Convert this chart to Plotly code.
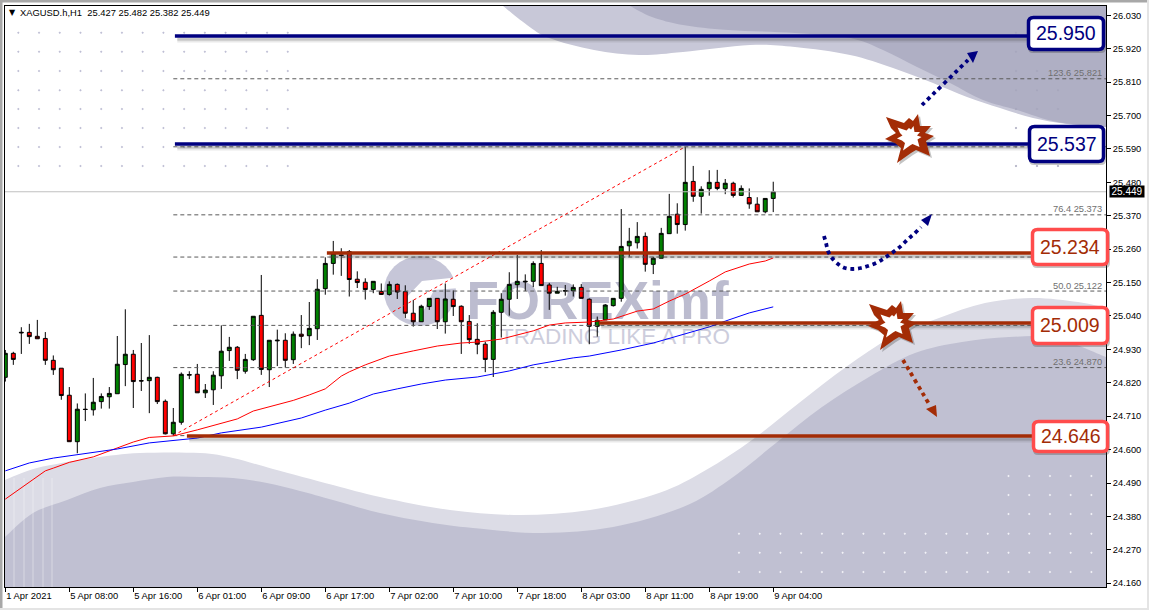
import plotly.graph_objects as go

# ---------------- data ----------------
title_text = "XAGUSD.h,H1  25.427 25.482 25.382 25.449"
opens = [24.838,24.917,24.984,24.986,24.973,24.966,24.894,24.868,24.779,24.626,24.733,24.731,24.758,24.774,24.784,24.880,24.914,24.827,24.827,24.838,24.759,24.652,24.690,24.845,24.848,24.787,24.797,24.843,24.926,24.937,24.858,24.896,25.042,24.863,24.958,
         24.960,24.896,24.980,24.975,24.998,25.130,25.213,25.241,25.252,25.161,25.151,25.127,25.121,25.111,25.144,25.120,25.049,25.021,25.071,25.098,25.021,25.095,25.072,25.022,24.963,24.947,24.897,25.052,25.095,25.143,25.152,25.154,
         25.213,25.142,25.115,25.122,25.123,25.134,25.095,25.006,25.027,25.074,25.098,25.271,25.281,25.302,25.210,25.230,25.311,25.375,25.341,25.483,25.434,25.459,25.480,25.459,25.477,25.437,25.430,25.408,25.383,25.427]
highs = [24.928,24.922,25.003,25.014,25.027,24.987,24.910,24.868,24.806,24.752,24.785,24.836,24.785,24.806,24.974,25.062,24.928,24.951,24.977,24.840,24.765,24.737,24.854,24.858,24.882,24.816,24.858,25.009,24.971,24.941,24.915,25.039,25.175,24.960,24.995,
         24.983,24.989,25.043,25.086,25.161,25.233,25.287,25.263,25.257,25.187,25.164,25.154,25.147,25.154,25.147,25.141,25.093,25.077,25.098,25.098,25.147,25.124,25.075,25.043,25.016,24.955,25.059,25.115,25.184,25.241,25.177,25.220,
         25.257,25.149,25.136,25.142,25.144,25.145,25.098,25.038,25.079,25.098,25.392,25.330,25.349,25.315,25.235,25.330,25.442,25.411,25.597,25.534,25.467,25.520,25.521,25.491,25.482,25.470,25.460,25.431,25.427,25.482]
lows = [24.824,24.879,24.915,24.948,24.965,24.879,24.846,24.764,24.626,24.588,24.694,24.712,24.735,24.735,24.784,24.809,24.737,24.793,24.720,24.750,24.650,24.645,24.682,24.832,24.787,24.770,24.747,24.800,24.892,24.832,24.850,24.892,24.846,24.806,24.875,
        24.870,24.882,24.934,24.944,24.961,25.110,25.176,25.172,25.104,25.132,25.094,25.115,25.109,25.107,25.096,25.033,25.005,25.021,25.060,24.997,24.982,25.040,24.915,24.948,24.914,24.855,24.839,24.969,25.041,25.096,25.122,25.135,
        25.140,25.060,25.115,25.107,25.104,25.098,24.947,24.972,25.027,25.071,25.087,25.235,25.262,25.186,25.178,25.230,25.311,25.311,25.321,25.416,25.377,25.436,25.454,25.441,25.430,25.436,25.393,25.383,25.378,25.382]
closes = [24.917,24.897,24.986,24.972,24.965,24.894,24.863,24.778,24.626,24.733,24.732,24.756,24.775,24.785,24.881,24.914,24.824,24.826,24.838,24.758,24.652,24.690,24.848,24.847,24.787,24.796,24.845,24.924,24.937,24.861,24.897,25.039,24.864,24.960,24.960,
          24.894,24.980,24.973,24.999,25.128,25.213,25.246,25.239,25.160,25.150,25.127,25.154,25.111,25.144,25.119,25.049,25.021,25.072,25.098,25.021,25.096,25.071,25.021,24.962,24.947,24.897,25.052,25.095,25.144,25.154,25.154,25.213,
          25.140,25.115,25.121,25.123,25.134,25.098,25.006,25.026,25.076,25.098,25.269,25.286,25.302,25.210,25.230,25.312,25.368,25.341,25.480,25.434,25.457,25.480,25.460,25.477,25.437,25.460,25.409,25.383,25.427,25.449]

red_ma_bar = [0,5,6,8,11,14,16,18,21,24,27,29,31,34,36,38,40,42,43,45,48,51,54,57,59,62,63,66,68,70,73,76,79,81,83,85,88,90,93,95,96]
red_ma_val = [24.437,24.530,24.539,24.558,24.576,24.605,24.625,24.640,24.645,24.665,24.688,24.701,24.727,24.747,24.762,24.780,24.800,24.842,24.856,24.879,24.908,24.925,24.941,24.951,24.954,24.964,24.971,24.991,25.010,25.017,25.020,25.030,25.056,25.063,25.089,25.112,25.155,25.185,25.211,25.221,25.231]
blue_ma_bar = [0,3,6,9,11,14,18,22,24,27,30,32,37,40,43,44,46,49,52,55,59,61,63,66,71,73,77,81,85,88,90,93,96]
blue_ma_val = [24.530,24.556,24.572,24.584,24.592,24.602,24.622,24.632,24.638,24.655,24.665,24.674,24.704,24.730,24.753,24.763,24.783,24.800,24.816,24.829,24.839,24.849,24.859,24.879,24.902,24.908,24.928,24.951,24.982,25.004,25.023,25.050,25.070]

fib_prices = [25.821,25.597,25.373,25.234,25.122,25.009,24.870,24.646]
fib_labels = ["123.6 25.821","","76.4 25.373","","50.0 25.122","","23.6 24.870",""]
fib_start_bar = 21
fib_peak_bar = 85
fib_low = 24.646
fib_high = 25.597

level_prices = [25.962,25.606,25.247,25.017,24.645]
level_start_bars = [21.2,21.2,40.2,74.2,22.7]
level_texts = ["25.950","25.537","25.234","25.009","24.646"]
current_price = 25.449

bar_labels = ["1 Apr 2021","5 Apr 08:00","5 Apr 16:00","6 Apr 01:00","6 Apr 09:00","6 Apr 17:00","7 Apr 02:00",
              "7 Apr 10:00","7 Apr 18:00","8 Apr 03:00","8 Apr 11:00","8 Apr 19:00","9 Apr 04:00"]
bar_ticks = [0,8,16,24,32,40,48,56,64,72,80,88,96]
price_ticks = [26.03,25.92,25.81,25.70,25.59,25.48,25.37,25.26,25.15,25.04,24.93,24.82,24.71,24.60,24.49,24.38,24.27,24.16]

# ---------------- layout geometry (pixels) ----------------
W, H = 1149, 610
L, R, T, B = 5, 1106, 6, 587
TEXT = "Liberation Sans"
NAVY = "#000080"
BROWN = "#A32C06"
BOXRED = "#FF4C4C"


def px(x):
    return (x - L) / (R - L)


def py(y):
    return (B - y) / (B - T)


def P(x, y):
    return f"{px(x):.5f},{py(y):.5f}"


def poly(points):
    return "M" + " L".join(P(*p) for p in points) + " Z"


def smooth(points):
    """Catmull-Rom spline through the points as cubic path segments."""
    s = ""
    n = len(points)
    for i in range(n - 1):
        p0 = points[max(i - 1, 0)]
        p1 = points[i]
        p2 = points[i + 1]
        p3 = points[min(i + 2, n - 1)]
        c1 = (p1[0] + (p2[0] - p0[0]) / 6, p1[1] + (p2[1] - p0[1]) / 6)
        c2 = (p2[0] - (p3[0] - p1[0]) / 6, p2[1] - (p3[1] - p1[1]) / 6)
        s += f" C{P(*c1)} {P(*c2)} {P(*p2)}"
    return s


def blob(points, closing):
    d = "M" + P(*points[0]) + smooth(points)
    for c in closing:
        d += " L" + P(*c)
    return d + " Z"


def round_rect(x0, y0, x1, y1, r):
    return (f"M{P(x0 + r, y0)} L{P(x1 - r, y0)} Q{P(x1, y0)} {P(x1, y0 + r)} "
            f"L{P(x1, y1 - r)} Q{P(x1, y1)} {P(x1 - r, y1)} L{P(x0 + r, y1)} "
            f"Q{P(x0, y1)} {P(x0, y1 - r)} L{P(x0, y0 + r)} Q{P(x0, y0)} {P(x0 + r, y0)} Z")


def path_shape(path, fill=None, line_color=None, width=0, layer="below", dash=None):
    line = dict(color=line_color or "rgba(0,0,0,0)", width=width)
    if dash:
        line["dash"] = dash
    return dict(type="path", path=path, xref="paper", yref="paper", layer=layer,
                fillcolor=fill or "rgba(0,0,0,0)", line=line)


def dots(xs, ys, r=1.25):
    d = ""
    for y in ys:
        for x in xs:
            d += f"M{P(x - r, y)} L{P(x, y - r)} L{P(x + r, y)} L{P(x, y + r)} Z "
    return d


shapes = []

# top-right swoosh
top_light = [(503, 6), (527, 25), (549, 38), (594, 50), (639, 55), (683, 52), (750, 45), (795, 47), (850, 55),
             (893, 68), (933, 83), (967, 97), (1000, 108), (1033, 118), (1067, 124), (1106, 127)]
top_dark = [(630, 6), (652, 17), (683, 25), (728, 30), (795, 33), (850, 38), (883, 50), (917, 67), (950, 83),
            (983, 100), (1017, 110), (1057, 122), (1106, 127)]
shapes.append(path_shape(blob(top_light, [(1106, 6)]), fill="#C8C8D8"))
shapes.append(path_shape(blob(top_dark, [(1106, 6)]), fill="#AFAFC4"))

# bottom swoosh
bot_light = [(5, 480), (37, 468), (93, 458), (140, 453), (200, 453), (233, 458), (273, 469), (333, 485), (380, 497),
             (450, 510), (520, 515), (590, 510), (659, 493), (706, 470), (752, 440), (799, 403), (846, 367),
             (892, 337), (939, 318), (985, 303), (1032, 298), (1078, 302), (1106, 308)]
bot_dark = [(5, 537), (33, 513), (67, 500), (100, 488), (133, 482), (167, 477), (200, 477), (233, 478), (267, 483),
            (300, 491), (333, 500), (380, 513), (427, 522), (473, 528), (543, 533), (613, 527), (683, 507),
            (729, 480), (776, 443), (822, 407), (869, 377), (915, 353), (962, 342), (1009, 337), (1055, 338),
            (1106, 357)]
shapes.append(path_shape(blob(bot_light, [(1106, 587), (5, 587)]), fill="#DCDCE6"))
shapes.append(path_shape(blob(bot_dark, [(1106, 587), (5, 587)]), fill="#C0C0D2"))

# pale vertical stripes bottom-left
for sx in (14, 24, 33, 43, 52):
    shapes.append(dict(type="line", xref="paper", yref="paper", layer="below",
                       x0=px(sx), x1=px(sx), y0=py(478), y1=py(587),
                       line=dict(color="rgba(255,255,255,0.38)", width=1)))

# dot grids
rows_top = [32.7, 51.7, 71, 90.3, 109, 128, 147, 166]
cols_top = [18.3 + 20.73 * i for i in range(14)]
shapes.append(path_shape(dots(cols_top, rows_top), fill="#BEBED4"))
shapes.append(path_shape(dots([1016], rows_top), fill="#A6A6BC"))
shapes.append(path_shape(dots([1037, 1058], [71, 90.3, 109, 166]), fill="#A6A6BC"))
cols_bot = [739 + 20.73 * i for i in range(18)]
shapes.append(path_shape(dots(cols_bot, [533.7, 552.7, 572]), fill="#F2F2F7"))
shapes.append(path_shape(dots(cols_bot[13:], [476, 495, 514]), fill="#F2F2F7"))

# watermark
shapes.append(dict(type="circle", xref="paper", yref="paper", layer="below",
                   x0=px(384), x1=px(456), y0=py(326), y1=py(256),
                   fillcolor="#C6C6D8", line=dict(width=0)))
shapes.append(path_shape(poly([(404, 300), (422, 281), (460, 277), (460, 288), (434, 290), (418, 322), (404, 318)]),
                         fill="#FFFFFF"))
shapes.append(dict(type="rect", xref="paper", yref="paper", layer="below",
                   x0=px(440), x1=px(755), y0=py(325), y1=py(265),
                   line=dict(width=0), fillcolor="rgba(0,0,0,0)",
                   label=dict(text="<b>FOREXimf</b>", textposition="middle center",
                              font=dict(family=TEXT, size=53, color="#BCBCCF"))))
shapes.append(dict(type="rect", xref="paper", yref="paper", layer="below",
                   x0=px(465), x1=px(765), y0=py(345), y1=py(322),
                   line=dict(width=0), fillcolor="rgba(0,0,0,0)",
                   label=dict(text="TRADING LIKE A PRO", textposition="middle center",
                              font=dict(family=TEXT, size=22.5, color="#CDCDDC"))))

# value boxes
boxes = [(1027, 16, 1105, 51, NAVY), (1028, 125, 1105, 163, NAVY), (1031, 228, 1109, 266, BOXRED),
         (1031, 306, 1109, 345, BOXRED), (1032, 420, 1109, 453, BOXRED)]
for (x0, y0, x1, y1, col) in boxes:
    shapes.append(path_shape(round_rect(x0 + 1, y0 + 2, x1 + 1, y1 + 2, 5), fill="rgba(60,60,60,0.3)", layer="above"))
    shapes.append(path_shape(round_rect(x0 + 1.5, y0 + 1.5, x1 - 1.5, y1 - 1.5, 5), fill="#FFFFFF", line_color=col,
                             width=3.5, layer="above"))

# bursts
burst = [(-23, -21), (-5, -15), (0, -20), (4, -17), (9, -24), (11, -12), (22, -12), (16, -5), (25, -2), (17, 3),
         (21, 18), (7, 12), (2, 15), (-12, 25), (-8, 10), (-14, 5), (-24, 1), (-13, -5), (-18, -10)]
for (cx, cy) in [(909, 138), (892, 325)]:
    shapes.append(path_shape(poly([(cx + a + 2, cy + b + 2) for a, b in burst]), fill="rgba(60,60,60,0.3)", layer="above"))
    shapes.append(path_shape(poly([(cx + a, cy + b) for a, b in burst]), fill=BROWN, layer="above"))
    shapes.append(path_shape(poly([(cx + a * 0.5, cy + b * 0.5) for a, b in burst]), fill="#FFFFFF", layer="above"))

# arrows
navy_straight = [(922, 105), (968, 60)]
navy_curve = [(824, 236), (826, 243), (828, 251), (832, 258), (838, 264), (845, 268), (853, 269), (861, 268),
              (868, 266), (876, 263), (883, 259), (889, 255), (896, 250), (902, 245), (908, 239), (914, 234), (921, 227)]
brown_straight = [(903, 360), (929, 404)]
for pts, col in [(navy_straight, NAVY), (navy_curve, NAVY), (brown_straight, BROWN)]:
    d = "M" + P(*pts[0]) + smooth(pts)
    shapes.append(path_shape(d, line_color=col, width=3.8, layer="above", dash="dot"))
shapes.append(path_shape(poly([(978, 51), (967, 53), (973, 63)]), fill=NAVY, layer="above"))
shapes.append(path_shape(poly([(932, 214), (921, 220), (928, 226)]), fill=NAVY, layer="above"))
shapes.append(path_shape(poly([(937, 417), (926, 409), (936, 405)]), fill=BROWN, layer="above"))

# window edge
for (x0, y0, x1, y1, col) in [(0, 0, W, 2.5, "#A8A8A8"), (0, 0, 2.5, H, "#A8A8A8"),
                              (1147, 0, W, H, "#E4E4E4"), (0, 608, W, H, "#E4E4E4")]:
    shapes.append(dict(type="rect", xref="paper", yref="paper", layer="above",
                       x0=px(x0), x1=px(x1), y0=py(y1), y1=py(y0), fillcolor=col, line=dict(width=0)))

# ---------------- traces ----------------
bars = list(range(len(opens)))
fig = go.Figure()

for p in fib_prices:
    fig.add_trace(go.Scatter(x=[fib_start_bar, 137.6], y=[p, p], mode="lines",
                             line=dict(color="#5A5A5A", width=1, dash="4px,3px"), hoverinfo="skip"))
fig.add_trace(go.Scatter(x=[-1, 137.6], y=[current_price, current_price], mode="lines",
                         line=dict(color="#C0C0C0", width=1), hoverinfo="skip"))
fig.add_trace(go.Scatter(x=[fib_start_bar, fib_peak_bar], y=[fib_low, fib_high], mode="lines",
                         line=dict(color="#FF0000", width=1, dash="3px,3px"), hoverinfo="skip"))
fig.add_trace(go.Candlestick(x=bars, open=opens, high=highs, low=lows, close=closes, whiskerwidth=0,
                             increasing=dict(fillcolor="#008000", line=dict(color="#000000", width=1)),
                             decreasing=dict(fillcolor="#FF0000", line=dict(color="#000000", width=1)),
                             hoverinfo="skip"))
fig.add_trace(go.Scatter(x=red_ma_bar, y=red_ma_val, mode="lines", line=dict(color="#FF0000", width=1), hoverinfo="skip"))
fig.add_trace(go.Scatter(x=blue_ma_bar, y=blue_ma_val, mode="lines", line=dict(color="#0000FF", width=1), hoverinfo="skip"))

UNIT = (26.03 - 24.16) / (583.0 - 15.3)  # price per pixel, only for the soft line shadows
for i, (p, s) in enumerate(zip(level_prices, level_start_bars)):
    col = NAVY if i < 2 else BROWN
    for off, alpha in ((2.5, 0.28), (4, 0.2), (5.5, 0.12)):
        fig.add_trace(go.Scatter(x=[s + 0.3, 129], y=[p - off * UNIT] * 2, mode="lines",
                                 line=dict(color=f"rgba(70,70,70,{alpha})", width=2), hoverinfo="skip"))
    fig.add_trace(go.Scatter(x=[s, 129], y=[p, p], mode="lines", line=dict(color=col, width=3.5), hoverinfo="skip"))

# ---------------- annotations ----------------
ann = [dict(text=title_text, xref="paper", yref="paper", x=px(18), y=py(12.5), xanchor="left", yanchor="middle",
            showarrow=False, font=dict(family=TEXT, size=9.4, color="#000000")),
       dict(text="▼", xref="paper", yref="paper", x=px(7), y=py(12.5), xanchor="left", yanchor="middle",
            showarrow=False, font=dict(family="DejaVu Sans", size=8, color="#000000")),
       dict(text="25.449", xref="paper", yref="y", x=px(1109), y=current_price, xanchor="left", yanchor="middle",
            showarrow=False, bgcolor="#000000", borderpad=0, width=34, height=11, align="center",
            font=dict(family=TEXT, size=10, color="#FFFFFF"))]
for p, t in zip(fib_prices, fib_labels):
    if t:
        ann.append(dict(text=t, xref="paper", yref="y", x=px(1104), y=p, yshift=5.5, xanchor="right", yanchor="middle",
                        showarrow=False, font=dict(family=TEXT, size=9.3, color="#707070")))
for t, (x0, y0, x1, y1, col) in zip(level_texts, boxes):
    ann.append(dict(text=t, xref="paper", yref="paper", x=px((x0 + x1) / 2), y=py((y0 + y1) / 2 - 0.5),
                    xanchor="center", yanchor="middle", showarrow=False,
                    font=dict(family=TEXT, size=19.5, color=NAVY if col == NAVY else BROWN)))

fig.update_layout(
    width=W, height=H, margin=dict(l=L, r=W - R, t=T, b=H - B, autoexpand=False),
    paper_bgcolor="#FFFFFF", plot_bgcolor="#FFFFFF", showlegend=False, hovermode=False,
    shapes=shapes, annotations=ann,
    xaxis=dict(range=[-0.04, 137.6], rangeslider=dict(visible=False), tickmode="array", tickvals=bar_ticks,
               ticktext=bar_labels, ticks="outside", ticklen=4, tickcolor="#000000", showgrid=False, zeroline=False,
               showline=True, linecolor="#000000", mirror=True, linewidth=1,
               ticklabelposition="outside right", tickangle=0,
               tickfont=dict(family=TEXT, size=9.4, color="#000000")),
    yaxis=dict(range=[24.1476, 26.0606], side="right", tickmode="array", tickvals=price_ticks,
               ticktext=[f"{v:.3f}" for v in price_ticks], ticks="outside", ticklen=4, tickcolor="#000000",
               showgrid=False, zeroline=False, showline=True, linecolor="#000000", mirror=True, linewidth=1,
               tickfont=dict(family=TEXT, size=9.3, color="#000000")),
)

fig.write_html("out.html", config={"displayModeBar": False},
               post_script="document.body.style.margin='0';document.body.style.overflow='hidden';")
